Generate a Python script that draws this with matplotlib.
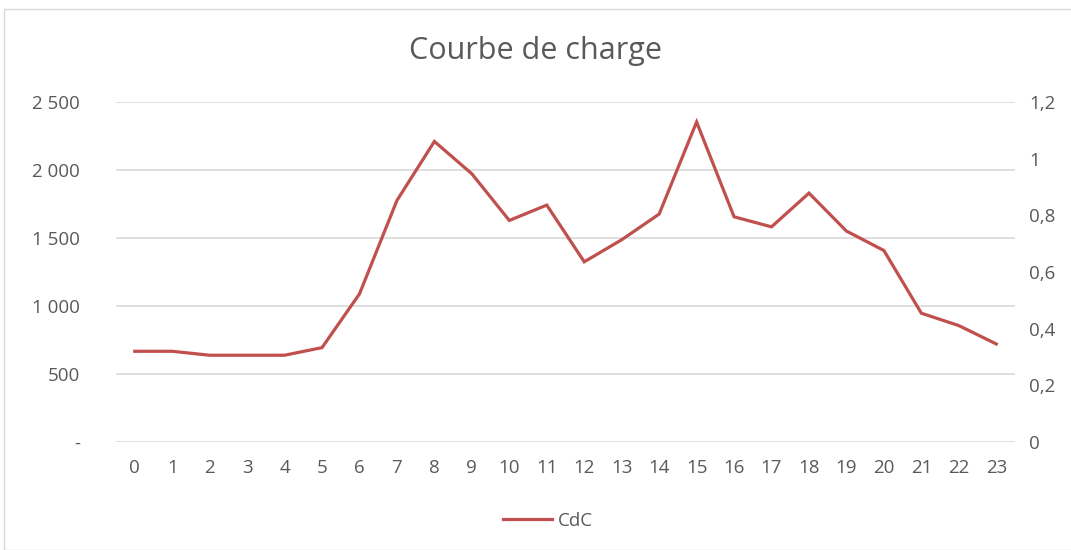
import matplotlib.pyplot as plt
from matplotlib.patches import Rectangle
from matplotlib.lines import Line2D

hours = list(range(24))
cdc = [667, 667, 638, 638, 638, 694, 1089, 1776, 2210, 1972, 1629, 1742,
       1325, 1487, 1676, 2353, 1656, 1582, 1830, 1551, 1408, 947, 856, 721]
left_ticks = [0, 500, 1000, 1500, 2000, 2500]
left_labels = ['-', '500', '1 000', '1 500', '2 000', '2 500']
right_ticks = [0, 0.2, 0.4, 0.6, 0.8, 1.0, 1.2]
right_labels = ['0', '0,2', '0,4', '0,6', '0,8', '1', '1,2']

text_col = '#595959'
grid_col = '#D9D9D9'
line_col = '#C0504D'

plt.rcParams['font.family'] = ['Open Sans', 'DejaVu Sans']

fig = plt.figure(figsize=(10.71, 5.5), dpi=100)
fig.patches.append(Rectangle((4 / 1071, 0), 1.2, 1 - 9 / 550, transform=fig.transFigure,
                             fill=False, edgecolor=grid_col, linewidth=1))

ax = fig.add_axes([116 / 1071, 1 - 442 / 550, (1015 - 116) / 1071, (442 - 102) / 550])
ax.plot(hours, cdc, color=line_col, linewidth=2.3, solid_joinstyle='miter')
ax.set_xlim(-0.5, 23.5)
ax.set_ylim(0, 2500)
ax.set_yticks(left_ticks)
ax.set_yticklabels(left_labels)
ax.set_xticks(hours)
ax.set_xticklabels([str(h) for h in hours])
ax.grid(axis='y', color=grid_col, linewidth=1.2)
ax.set_axisbelow(True)
for s in ax.spines.values():
    s.set_visible(False)
ax.tick_params(axis='both', length=0, colors=text_col, labelsize=13.5)
ax.tick_params(axis='y', pad=26)
ax.tick_params(axis='x', pad=12)

ax2 = ax.twinx()
ax2.set_ylim(0, 1.2)
ax2.set_yticks(right_ticks)
ax2.set_yticklabels(right_labels)
for s in ax2.spines.values():
    s.set_visible(False)
ax2.tick_params(axis='y', length=0, colors=text_col, labelsize=13.5, pad=10)

fig.text(0.5, 1 - 51 / 550, 'Courbe de charge', ha='center', va='center',
         fontsize=22, color=text_col)

handle = Line2D([0], [0], color=line_col, linewidth=2.3)
fig.legend([handle], ['CdC'], loc='center', bbox_to_anchor=(548 / 1071, 1 - 521 / 550),
           frameon=False, fontsize=13.5, labelcolor=text_col, handlelength=2.6,
           handletextpad=0.3)

fig.savefig('out.png', dpi=100)
